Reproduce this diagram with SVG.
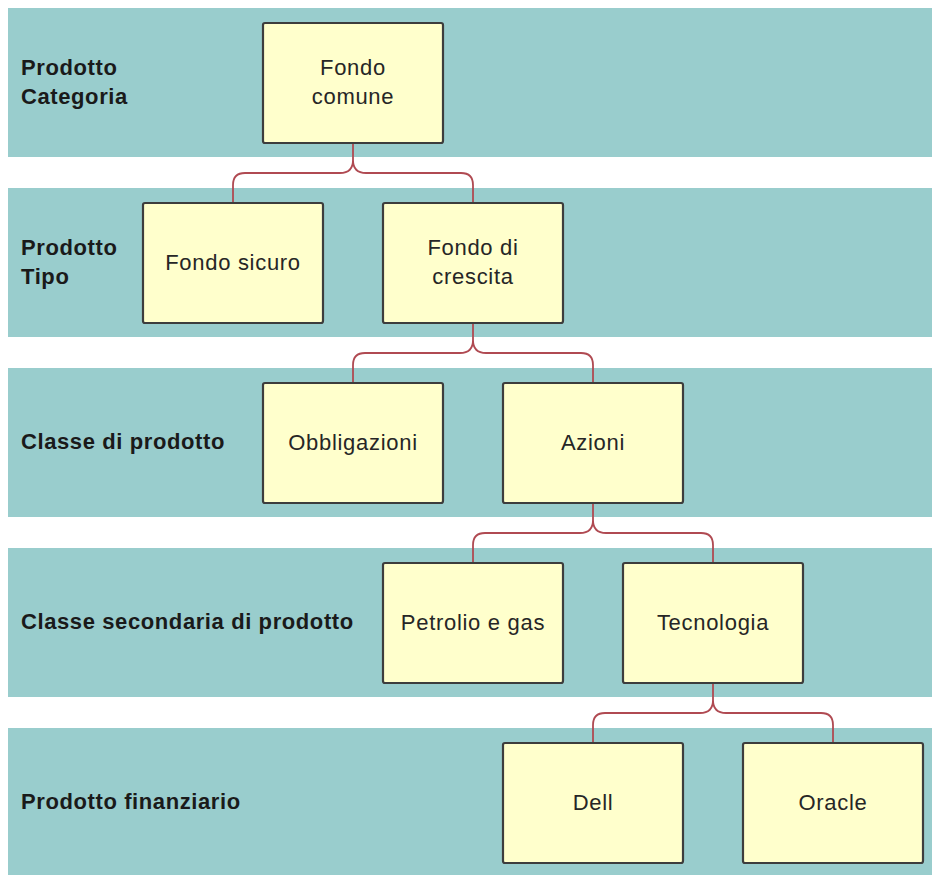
<svg xmlns="http://www.w3.org/2000/svg" width="932" height="875" viewBox="0 0 932 875">
<style>
.band{fill:#99cdcd}
.box{fill:#ffffcc;stroke:#3d3d3d;stroke-width:2.2}
.t{font-family:"Liberation Sans",Arial,sans-serif;font-size:22px;letter-spacing:0.7px;fill:#262626;text-anchor:middle}
.l{font-family:"Liberation Sans",Arial,sans-serif;font-size:22px;letter-spacing:0.6px;font-weight:bold;fill:#1a1a1a}
.c{fill:none;stroke:#b04a52;stroke-width:1.8}
</style>
<rect width="932" height="875" fill="#fff"/>
<g id="bands">
<rect class="band" x="8" y="8" width="924" height="149"/>
<rect class="band" x="8" y="188" width="924" height="149"/>
<rect class="band" x="8" y="368" width="924" height="149"/>
<rect class="band" x="8" y="548" width="924" height="149"/>
<rect class="band" x="8" y="728" width="924" height="147"/>
</g>
<g id="labels">
<text class="l" x="21" y="75">Prodotto</text>
<text class="l" x="21" y="104">Categoria</text>
<text class="l" x="21" y="255">Prodotto</text>
<text class="l" x="21" y="284">Tipo</text>
<text class="l" x="21" y="449">Classe di prodotto</text>
<text class="l" x="21" y="629">Classe secondaria di prodotto</text>
<text class="l" x="21" y="809">Prodotto finanziario</text>
</g>
<g id="connectors">
<path class="c" d="M353 143 V160 Q353 173 340 173 H245 Q233 173 233 185 V203 M353 160 Q353 173 366 173 H461 Q473 173 473 185 V203"/>
<path class="c" d="M473 323 V340 Q473 353 460 353 H365 Q353 353 353 365 V383 M473 340 Q473 353 486 353 H581 Q593 353 593 365 V383"/>
<path class="c" d="M593 503 V520 Q593 533 580 533 H485 Q473 533 473 545 V563 M593 520 Q593 533 606 533 H701 Q713 533 713 545 V563"/>
<path class="c" d="M713 683 V700 Q713 713 700 713 H605 Q593 713 593 725 V743 M713 700 Q713 713 726 713 H821 Q833 713 833 725 V743"/>
</g>
<g id="n-fondo-comune"><rect class="box" x="263" y="23" width="180" height="120" rx="2"/><text class="t" x="353" y="75">Fondo</text><text class="t" x="353" y="104">comune</text></g>
<g id="n-fondo-sicuro"><rect class="box" x="143" y="203" width="180" height="120" rx="2"/><text class="t" x="233" y="270">Fondo sicuro</text></g>
<g id="n-fondo-crescita"><rect class="box" x="383" y="203" width="180" height="120" rx="2"/><text class="t" x="473" y="255">Fondo di</text><text class="t" x="473" y="284">crescita</text></g>
<g id="n-obbligazioni"><rect class="box" x="263" y="383" width="180" height="120" rx="2"/><text class="t" x="353" y="450">Obbligazioni</text></g>
<g id="n-azioni"><rect class="box" x="503" y="383" width="180" height="120" rx="2"/><text class="t" x="593" y="450">Azioni</text></g>
<g id="n-petrolio"><rect class="box" x="383" y="563" width="180" height="120" rx="2"/><text class="t" x="473" y="630">Petrolio e gas</text></g>
<g id="n-tecnologia"><rect class="box" x="623" y="563" width="180" height="120" rx="2"/><text class="t" x="713" y="630">Tecnologia</text></g>
<g id="n-dell"><rect class="box" x="503" y="743" width="180" height="120" rx="2"/><text class="t" x="593" y="810">Dell</text></g>
<g id="n-oracle"><rect class="box" x="743" y="743" width="180" height="120" rx="2"/><text class="t" x="833" y="810">Oracle</text></g>
</svg>
